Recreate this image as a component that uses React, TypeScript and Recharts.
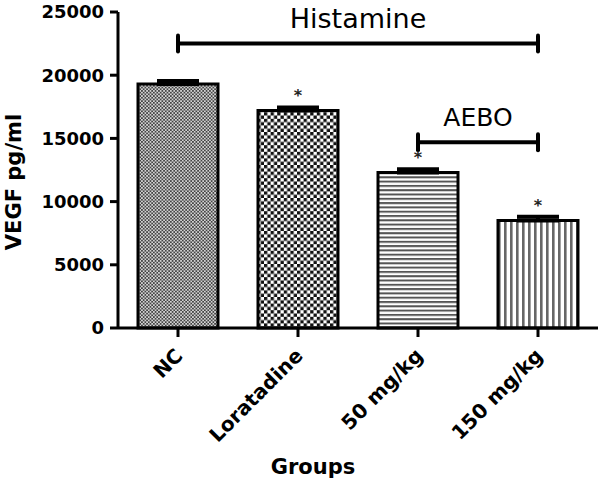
import { BarChart, Bar, XAxis, YAxis, ErrorBar, Cell, LabelList, ReferenceLine } from "recharts";

const groups = ["NC", "Loratadine", "50 mg/kg", "150 mg/kg"];
const vegf = [19300, 17200, 12300, 8500];
const sem = [250, 250, 250, 300];
const marks = ["", "*", "*", "*"];
const yTicks = [0, 5000, 10000, 15000, 20000, 25000];
const patterns = ["url(#pNC)", "url(#pLor)", "url(#pHoriz)", "url(#pVert)"];

const data = groups.map((g, i) => ({
  group: g,
  vegf: vegf[i],
  err: [0, sem[i]],
  mark: marks[i],
}));

const FONT = "'DejaVu Sans', 'Liberation Sans', Arial, sans-serif";

const GroupTick = ({ x, y, payload }: any) => {
  const ax = x + 6;
  const ay = y + 18;
  return (
    <text
      x={ax}
      y={ay}
      textAnchor="end"
      transform={`rotate(-45 ${ax} ${ay})`}
      fontFamily={FONT}
      fontWeight="bold"
      fontSize={20}
      fill="#000"
    >
      {payload.value}
    </text>
  );
};

const YTitle = () => (
  <text
    x={21}
    y={182}
    textAnchor="middle"
    transform="rotate(-90 21 182)"
    fontFamily={FONT}
    fontWeight="bold"
    fontSize={21}
    fill="#000"
  >
    VEGF pg/ml
  </text>
);

const bracket = (label: string, size: number) => (props: any) => {
  const { x1, y1, x2 } = props;
  return (
    <g>
      <line x1={x1} y1={y1} x2={x2} y2={y1} stroke="#000" strokeWidth={4} />
      <line x1={x1} y1={y1 - 8} x2={x1} y2={y1 + 8} stroke="#000" strokeWidth={4} strokeLinecap="round" />
      <line x1={x2} y1={y1 - 8} x2={x2} y2={y1 + 8} stroke="#000" strokeWidth={4} strokeLinecap="round" />
      <text x={(x1 + x2) / 2} y={y1 - 16} textAnchor="middle" fontFamily={FONT} fontSize={size} fill="#000">
        {label}
      </text>
    </g>
  );
};

const Star = (props: any) => {
  const { x, y, width, value } = props;
  if (!value) return null;
  return (
    <text x={x + width / 2} y={y - 10} textAnchor="middle" fontFamily={FONT} fontWeight="bold" fontSize={16} fill="#222">
      {value}
    </text>
  );
};

export default function App() {
  return (
    <div style={{ position: "absolute", left: 0, top: 0, width: 600, height: 480, background: "#fff" }}>
      <BarChart width={600} height={480} data={data} margin={{ top: 12, right: 2, left: 0, bottom: 0 }}>
        <defs>
          <pattern id="pNC" patternUnits="userSpaceOnUse" width={3.4} height={3.4}>
            <rect width={3.4} height={3.4} fill="#d4d4d4" />
            <rect width={1.7} height={1.7} fill="#444" />
            <rect x={1.7} y={1.7} width={1.7} height={1.7} fill="#444" />
          </pattern>
          <pattern id="pLor" patternUnits="userSpaceOnUse" width={6.6} height={6.6}>
            <rect width={6.6} height={6.6} fill="#fff" />
            <rect width={3.3} height={3.3} fill="#111" />
            <rect x={3.3} y={3.3} width={3.3} height={3.3} fill="#111" />
          </pattern>
          <pattern id="pHoriz" patternUnits="userSpaceOnUse" width={4.3} height={4.3}>
            <rect width={4.3} height={4.3} fill="#fff" />
            <rect width={4.3} height={2} fill="#555" />
          </pattern>
          <pattern id="pVert" patternUnits="userSpaceOnUse" width={6} height={6}>
            <rect width={6} height={6} fill="#fff" />
            <rect width={2.6} height={6} fill="#666" />
          </pattern>
        </defs>
        <XAxis
          dataKey="group"
          height={152}
          tick={<GroupTick />}
          tickSize={9}
          tickMargin={2}
          interval={0}
          axisLine={{ stroke: "#000", strokeWidth: 3 }}
          tickLine={{ stroke: "#000", strokeWidth: 3 }}
          label={{
            value: "Groups",
            position: "insideBottom",
            offset: 6,
            fontFamily: FONT,
            fontWeight: "bold",
            fontSize: 21,
            fill: "#000",
            dx: -45,
          }}
        />
        <YAxis
          width={118}
          domain={[0, 25000]}
          ticks={yTicks}
          interval={0}
          tickSize={8}
          tickMargin={6}
          axisLine={{ stroke: "#000", strokeWidth: 3 }}
          tickLine={{ stroke: "#000", strokeWidth: 3 }}
          tick={{ fontFamily: FONT, fontWeight: "bold", fontSize: 18, fill: "#000" }}
          label={<YTitle />}
        />
        <Bar dataKey="vegf" barSize={80} stroke="#000" strokeWidth={3} isAnimationActive={false}>
          {data.map((d, i) => (
            <Cell key={d.group} fill={patterns[i]} />
          ))}
          <ErrorBar dataKey="err" direction="y" width={21} stroke="#000" strokeWidth={4} isAnimationActive={false} />
          <LabelList dataKey="mark" content={<Star />} />
        </Bar>
        <ReferenceLine
          segment={[
            { x: "NC", y: 22500 },
            { x: "150 mg/kg", y: 22500 },
          ]}
          shape={bracket("Histamine", 27)}
        />
        <ReferenceLine
          segment={[
            { x: "50 mg/kg", y: 14700 },
            { x: "150 mg/kg", y: 14700 },
          ]}
          shape={bracket("AEBO", 25)}
        />
      </BarChart>
    </div>
  );
}
